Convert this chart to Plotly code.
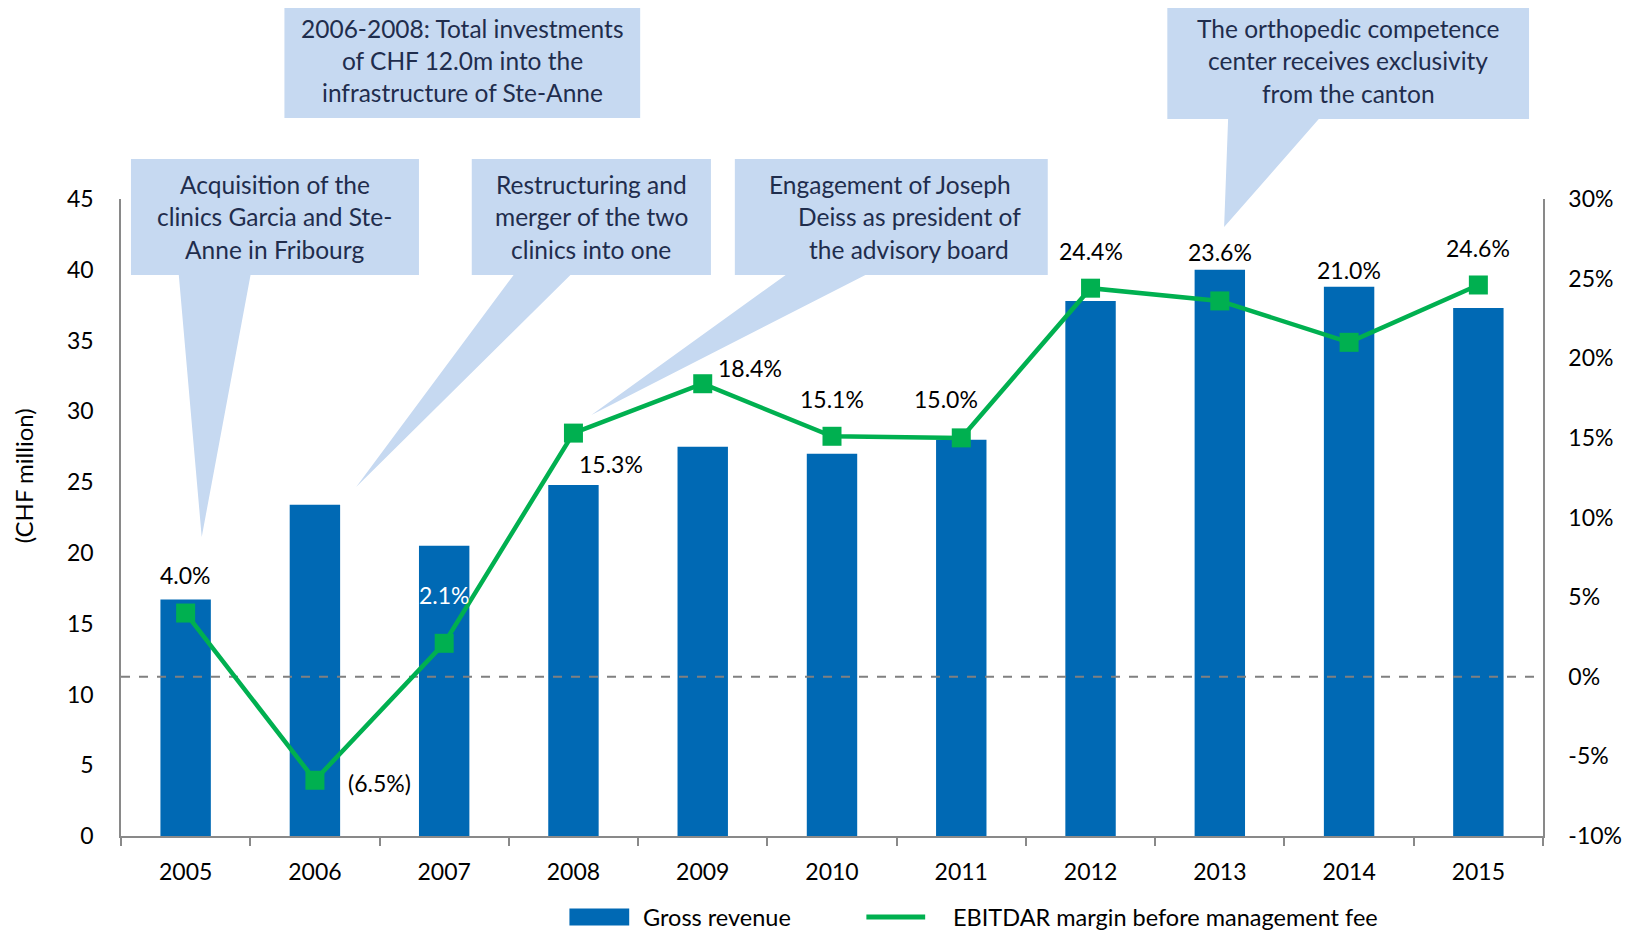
import plotly.graph_objects as go

# ---------------- data ----------------
years = ["2005", "2006", "2007", "2008", "2009", "2010", "2011", "2012", "2013", "2014", "2015"]
gross_revenue = [16.7, 23.4, 20.5, 24.8, 27.5, 27.0, 28.0, 37.8, 40.0, 38.8, 37.3]
ebitdar_margin = [4.0, -6.5, 2.1, 15.3, 18.4, 15.1, 15.0, 24.4, 23.6, 21.0, 24.6]
margin_labels = ["4.0%", "(6.5%)", "2.1%", "15.3%", "18.4%", "15.1%", "15.0%", "24.4%", "23.6%", "21.0%", "24.6%"]
left_ticks = [0, 5, 10, 15, 20, 25, 30, 35, 40, 45]
right_tickvals = [-10, -5, 0, 5, 10, 15, 20, 25, 30]
right_ticktext = ["-10%", "-5%", "0%", "5%", "10%", "15%", "20%", "25%", "30%"]

# label offsets (pixels) relative to each margin point
label_dx = [0, 65, 0, 38, 47, 0, -15, 0, 0, 0, 0]
label_dy = [38, -3, 48, -31, 16, 37, 39, 37, 49, 72, 37]
label_colors = ["black", "black", "white"] + ["black"] * 8

callouts = [
    {"lines": ["Acquisition of the", "clinics Garcia and Ste-", "Anne in Fribourg"],
     "box": (131, 159, 420, 275), "ptr": (179, 251, 202, 537), "dx": [0, 0, 0]},
    {"lines": ["2006-2008: Total investments", "of CHF 12.0m into the", "infrastructure of Ste-Anne"],
     "box": (285, 3, 642, 118), "ptr": None, "dx": [0, 0, 0]},
    {"lines": ["Restructuring and", "merger of the two", "clinics into one"],
     "box": (473, 159, 713, 275), "ptr": (515, 572, 357, 487), "dx": [0, 0, 0]},
    {"lines": ["Engagement of Joseph", "Deiss as president of", "the advisory board"],
     "box": (737, 159, 1051, 275), "ptr": (788, 868, 593, 415), "dx": [-1, 18, 18]},
    {"lines": ["The orthopedic competence", "center receives exclusivity", "from the canton"],
     "box": (1171, 3, 1534, 119), "ptr": (1232, 1323, 1228, 227), "dx": [0, 0, 0]},
]

# ---------------- layout geometry (window pixels) ----------------
OFF = 8  # browser default body margin
WIN_W, WIN_H = 1642, 939
W, H = WIN_W - 2 * OFF, WIN_H - 2 * OFF
PL, PR, PT, PB = 121, 1548, 199, 836  # plot area in window pixels


def px(x):
    return (x - PL) / (PR - PL)


def py(y):
    return (PB - y) / (PB - PT)


FONT = "Lato, 'Open Sans', sans-serif"
FS_TICK = 23
FS_LAB = 23
FS_BOX = 24.5
FS_LEG = 23.5
BLUE = "#0069B4"
GREEN = "#00B050"
AXIS = "#898989"
BOXFILL = "#C6D9F1"
BOXTEXT = "#1F2D4D"

xs = list(range(len(years)))

fig = go.Figure()
fig.add_trace(go.Bar(x=xs, y=gross_revenue, name="Gross revenue", marker=dict(color=BLUE, line=dict(width=0)),
                     width=0.39, showlegend=False, yaxis="y"))
fig.add_trace(go.Scatter(x=[-0.5, len(years) - 0.5], y=[0, 0], mode="lines", yaxis="y2",
                         line=dict(color="#808080", width=2, dash="dash"), showlegend=False, hoverinfo="skip"))
fig.add_trace(go.Scatter(x=xs, y=ebitdar_margin, name="EBITDAR margin before management fee", mode="lines+markers",
                         yaxis="y2", line=dict(color=GREEN, width=4.5),
                         marker=dict(symbol="square", size=19, color=GREEN), showlegend=False))

annotations = []
shapes = []

# data labels
for i, (v, t) in enumerate(zip(ebitdar_margin, margin_labels)):
    annotations.append(dict(x=xs[i], y=v, xref="x", yref="y2", text=t, showarrow=False,
                            xshift=label_dx[i], yshift=label_dy[i],
                            font=dict(family=FONT, size=FS_LAB, color=label_colors[i])))

# callouts
for c in callouts:
    x0, y0, x1, y1 = c["box"]
    pts = [(x0, y0), (x1, y0), (x1, y1)]
    if c["ptr"] is not None:
        b0, b1, tx, ty = c["ptr"]
        pts += [(b1, y1), (tx, ty), (b0, y1)]
    pts += [(x0, y1)]
    path = "M " + " L ".join(f"{px(a):.5f},{py(b):.5f}" for a, b in pts) + " Z"
    shapes.append(dict(type="path", path=path, xref="paper", yref="paper", fillcolor=BOXFILL,
                       line=dict(width=0), layer="below"))
    cx = (x0 + x1) / 2
    cy = (y0 + y1) / 2
    n = len(c["lines"])
    for k, ln in enumerate(c["lines"]):
        ly = cy + (k - (n - 1) / 2) * 32.4
        annotations.append(dict(x=px(cx + c["dx"][k]), y=py(ly), xref="paper", yref="paper", text=ln,
                                showarrow=False, xanchor="center", yanchor="middle",
                                font=dict(family=FONT, size=FS_BOX, color=BOXTEXT)))

# y-axis title
annotations.append(dict(x=px(23), y=py(476), xref="paper", yref="paper", text="(CHF million)", textangle=-90,
                        showarrow=False, xanchor="center", yanchor="middle",
                        font=dict(family=FONT, size=24, color="black")))

# custom legend (kept inside the figure area)
LEG_Y = 917
shapes.append(dict(type="rect", xref="paper", yref="paper", x0=px(571), x1=px(631), y0=py(LEG_Y + 8.5),
                   y1=py(LEG_Y - 8.5), fillcolor=BLUE, line=dict(width=0)))
annotations.append(dict(x=px(643), y=py(LEG_Y), xref="paper", yref="paper", text="Gross revenue", showarrow=False,
                        xanchor="left", yanchor="middle", font=dict(family=FONT, size=FS_LEG, color="black")))
shapes.append(dict(type="line", xref="paper", yref="paper", x0=px(869), x1=px(928), y0=py(LEG_Y), y1=py(LEG_Y),
                   line=dict(color=GREEN, width=5)))
annotations.append(dict(x=px(954), y=py(LEG_Y), xref="paper", yref="paper",
                        text="EBITDAR margin before management fee", showarrow=False,
                        xanchor="left", yanchor="middle", font=dict(family=FONT, size=FS_LEG, color="black")))

fig.update_layout(
    width=W, height=H,
    margin=dict(l=PL - OFF, r=WIN_W - OFF - PR, t=PT - OFF, b=WIN_H - OFF - PB, pad=0),
    paper_bgcolor="white", plot_bgcolor="white",
    font=dict(family=FONT, size=FS_TICK, color="black"),
    showlegend=False,
    xaxis=dict(range=[-0.5, len(years) - 0.5], tickmode="array", tickvals=xs, ticktext=years,
               ticks="", showgrid=False, zeroline=False, showline=True, linecolor=AXIS, linewidth=1.5,
               ticklabelstandoff=15, tickfont=dict(family=FONT, size=FS_TICK, color="black"),
               minor=dict(tickmode="array", tickvals=[i - 0.5 for i in range(len(years) + 1)],
                          ticks="outside", ticklen=8, tickcolor=AXIS, tickwidth=1.5, showgrid=False),
               fixedrange=True),
    yaxis=dict(range=[0, 45], tickmode="array", tickvals=left_ticks, ticks="", showgrid=False, zeroline=False,
               showline=True, linecolor=AXIS, linewidth=1.5, ticklabelstandoff=21,
               tickfont=dict(family=FONT, size=FS_TICK, color="black")),
    yaxis2=dict(range=[-10, 30], overlaying="y", side="right", tickmode="array", tickvals=right_tickvals,
                ticktext=right_ticktext, ticks="", showgrid=False, zeroline=False, showline=True,
                linecolor=AXIS, linewidth=1.5, ticklabelstandoff=19,
                tickfont=dict(family=FONT, size=FS_TICK, color="black")),
    annotations=annotations,
    shapes=shapes,
    bargap=0.61,
)

fig.write_html("out.html")
